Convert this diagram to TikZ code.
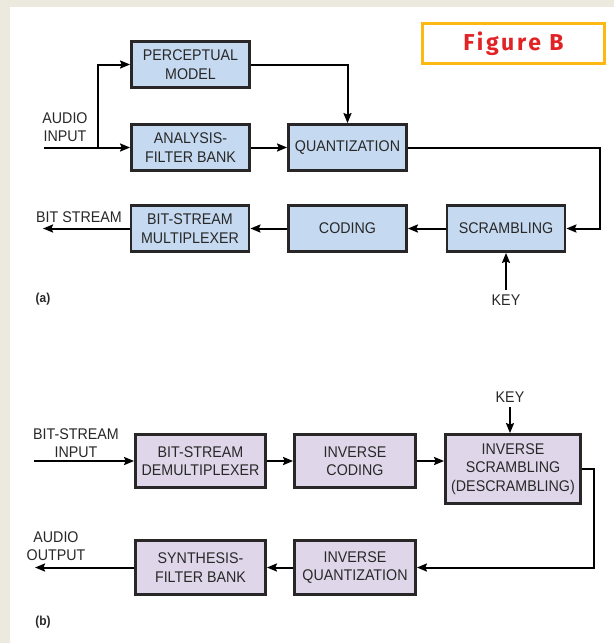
\documentclass[tikz,border=0pt]{standalone}
\usepackage{fontspec}
\setmainfont{Liberation Sans}[FakeStretch=0.92]
\newfontfamily\figfont{Fira Sans}[LetterSpace=12]
\usepackage{tikz}
\usetikzlibrary{arrows.meta}

\definecolor{paper}{RGB}{236,233,223}
\definecolor{boxline}{RGB}{40,38,38}
\definecolor{ink}{RGB}{40,40,40}
\definecolor{blockblue}{RGB}{197,217,240}
\definecolor{blocklilac}{RGB}{224,214,234}
\definecolor{figyellow}{RGB}{253,185,19}
\definecolor{figred}{RGB}{226,35,38}

\begin{document}
\begin{tikzpicture}[
    x = 1pt, y = -1pt, % pixel grid, y downwards
    > = {Stealth[length=10pt,width=8pt,inset=1.5pt]}, % arrow head style
    line width = 2pt, % connector lines
    block/.style = {draw=boxline, line width=2.8pt, align=center, inner sep=0pt,
        text=ink, font=\fontsize{15.5}{18.5}\selectfont},
    coder/.style = {block, fill=blockblue, minimum width=118pt, minimum height=46pt},
    decoder/.style = {block, fill=blocklilac, minimum height=53pt},
    label/.style = {align=center, text=ink, inner sep=0pt, font=\fontsize{15.5}{18}\selectfont},
    tag/.style = {text=ink, inner sep=0pt, font=\bfseries\fontsize{13}{15}\selectfont}
]
\useasboundingbox (0,0) rectangle (614,643);
\fill[paper] (0,0) rectangle (614,643);
\fill[white] (10,7) rectangle (614,643);

\node[draw=figyellow, line width=3pt, minimum width=182pt, minimum height=40pt,
    text=figred, font=\figfont\bfseries\fontsize{23}{24}\selectfont] (figtitle) at (513.5,43.5) {Figure B};

% (a) coder
\node[coder] (percept) at (190.5,64.5) {PERCEPTUAL\\MODEL};
\node[coder] (analysis) at (190.5,147.5) {ANALYSIS-\\FILTER BANK};
\node[coder] (quant) at (347.5,147.5) {QUANTIZATION};
\node[coder] (scramb) at (506,228.5) {SCRAMBLING};
\node[coder] (coding) at (347.5,228.5) {CODING};
\node[coder] (mux) at (190,228.5) {BIT-STREAM\\MULTIPLEXER};

\node[label] (ain) at (65,127) {AUDIO\\INPUT};
\node[label] (bsout) at (79,217) {BIT STREAM};
\node[label] (keya) at (506,300) {KEY};
\node[tag] (taga) at (43,299) {(a)};

\coordinate (ainstart) at (44,147.5);
\coordinate (split) at (98,147.5);
\coordinate (qturn) at (600,147.5);
\coordinate (bsend) at (43,228.5);

\draw[->] (ainstart) -- (analysis);
\draw[->] (split) |- (percept);
\draw[->] (percept) -| (quant);
\draw[->] (analysis) -- (quant);
\draw[->] (quant) -- (qturn) |- (scramb);
\draw[->] (scramb) -- (coding);
\draw[->] (coding) -- (mux);
\draw[->] (mux) -- (bsend);
\draw[->, shorten <=4pt] (keya) -- (scramb);

% (b) decoder
\node[decoder, minimum width=130pt] (demux) at (200.5,461) {BIT-STREAM\\DEMULTIPLEXER};
\node[decoder, minimum width=121pt] (invcoding) at (355,461) {INVERSE\\CODING};
\node[decoder, minimum width=135pt, minimum height=69pt] (invscramb) at (513,469) {INVERSE\\SCRAMBLING\\(DESCRAMBLING)};
\node[decoder, minimum width=121pt, minimum height=54pt] (invquant) at (355,567.5) {INVERSE\\QUANTIZATION};
\node[decoder, minimum width=130pt, minimum height=54pt] (synth) at (200.5,567.5) {SYNTHESIS-\\FILTER BANK};

\node[label] (bsin) at (76,443) {BIT-STREAM\\INPUT};
\node[label] (aout) at (56,546.5) {AUDIO\\OUTPUT};
\node[label] (keyb) at (510,397) {KEY};
\node[tag] (tagb) at (43,622) {(b)};

\coordinate (bsstart) at (34,461);
\coordinate (dturn) at (594,469);
\coordinate (aoutend) at (35,567.5);

\draw[->] (bsstart) -- (demux);
\draw[->] (demux) -- (invcoding);
\draw[->] (invcoding) -- (invcoding -| invscramb.west);
\draw[->, shorten <=4pt] (keyb) -- (keyb |- invscramb.north);
\draw[->] (invscramb) -- (dturn) |- (invquant);
\draw[->] (invquant) -- (synth);
\draw[->] (synth) -- (aoutend);
\end{tikzpicture}
\end{document}
